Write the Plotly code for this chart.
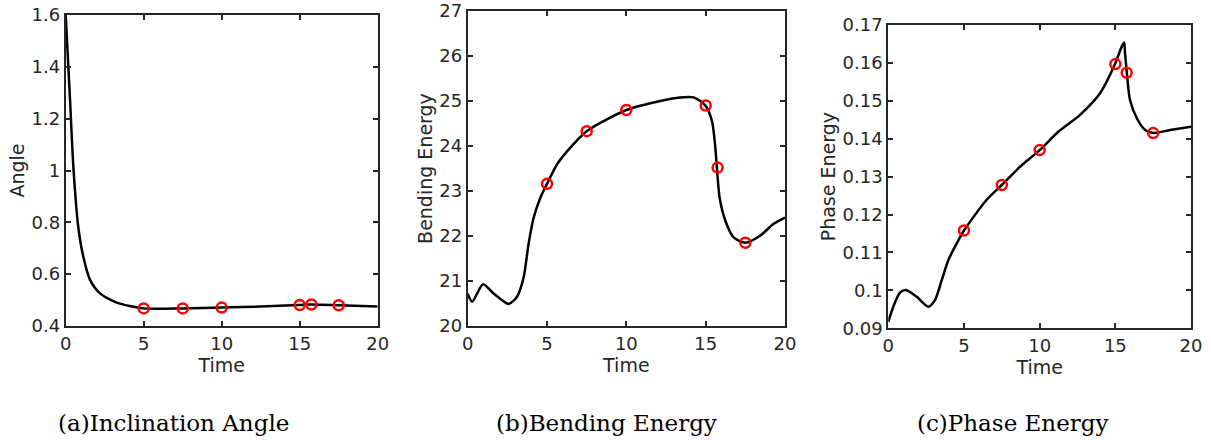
import plotly.graph_objects as go

# ---- Data ----
# (a) Inclination angle curve
t_angle = [0, 0.28, 0.49, 0.81, 1.13, 1.56, 2.2, 3.27, 5, 7.5, 10, 12.5, 15, 15.75, 17.5, 20]
angle = [1.6, 1.27, 1.015, 0.78, 0.667, 0.578, 0.526, 0.49, 0.468, 0.468, 0.471, 0.475, 0.481, 0.483, 0.480, 0.475]
# (b) Bending energy curve
t_bend = [0, 0.28, 0.97, 1.64, 2.58, 3.11, 3.53, 3.84, 4.16, 4.58, 5.0, 5.63, 6.26, 7.5, 10, 12, 13.4, 14.24,
          14.98, 15.4, 15.61, 15.71, 15.88, 16.24, 16.76, 17.5, 18.45, 19.28, 20]
bend = [20.72, 20.54, 20.93, 20.72, 20.49, 20.65, 21.09, 21.83, 22.41, 22.85, 23.16, 23.59, 23.88, 24.33, 24.80,
        24.99, 25.08, 25.08, 24.90, 24.55, 23.96, 23.50, 22.85, 22.34, 21.97, 21.85, 22.01, 22.27, 22.41]
# (c) Phase energy curve
t_phase = [0, 0.33, 0.77, 1.17, 1.88, 2.64, 3.09, 3.53, 3.97, 4.52, 5.0, 6.5, 7.5, 8.7, 10, 11.25, 12.67, 13.99,
           14.98, 15.42, 15.58, 15.64, 15.76, 15.97, 16.42, 16.97, 17.52, 18.62, 20]
phase = [0.0917, 0.0957, 0.0994, 0.1001, 0.0983, 0.0957, 0.0975, 0.1027, 0.1080, 0.1124, 0.1158, 0.1239, 0.1278,
         0.1326, 0.1370, 0.1419, 0.1463, 0.1520, 0.1597, 0.1643, 0.1654, 0.1626, 0.1574, 0.1502, 0.1454, 0.1423,
         0.1415, 0.1423, 0.1432]

# Marker samples
t_marks = [5, 7.5, 10, 15, 15.75, 17.5]
angle_marks = [0.468, 0.468, 0.471, 0.481, 0.483, 0.480]
bend_marks = [23.16, 24.33, 24.80, 24.90, 23.52, 21.85]
phase_marks = [0.1158, 0.1278, 0.1370, 0.1597, 0.1574, 0.1415]

# Axis settings
x_ticks = [0, 5, 10, 15, 20]
angle_ticks = [0.4, 0.6, 0.8, 1.0, 1.2, 1.4, 1.6]
angle_ticktext = ["0.4", "0.6", "0.8", "1", "1.2", "1.4", "1.6"]
bend_ticks = [20, 21, 22, 23, 24, 25, 26, 27]
phase_ticks = [0.09, 0.10, 0.11, 0.12, 0.13, 0.14, 0.15, 0.16, 0.17]
phase_ticktext = ["0.09", "0.1", "0.11", "0.12", "0.13", "0.14", "0.15", "0.16", "0.17"]
y_titles = ["Angle", "Bending Energy", "Phase Energy"]
captions = ["(a)Inclination Angle", "(b)Bending Energy", "(c)Phase Energy"]

W, H = 1211, 440
AX = "#262626"
FONT = "DejaVu Sans"

fig = go.Figure()
series = [(t_angle, angle, angle_marks), (t_bend, bend, bend_marks), (t_phase, phase, phase_marks)]
for i, (tx, ty, my) in enumerate(series):
    xa = "x" if i == 0 else f"x{i+1}"
    ya = "y" if i == 0 else f"y{i+1}"
    fig.add_trace(go.Scatter(x=tx, y=ty, mode="lines",
                             line=dict(color="black", width=2.5, shape="spline", smoothing=0.7),
                             xaxis=xa, yaxis=ya, showlegend=False, hoverinfo="skip"))
    fig.add_trace(go.Scatter(x=t_marks, y=my, mode="markers",
                             marker=dict(symbol="circle-open", size=10, color="red", line=dict(width=2.5, color="red")),
                             xaxis=xa, yaxis=ya, showlegend=False))

px = lambda v: v / W
py = lambda v: 1 - v / H
xdoms = [[px(65.7), px(377.7)], [px(467.7), px(785)], [px(888.3), px(1191)]]
ydoms = [[py(326), py(15)], [py(326), py(11)], [py(328.3), py(25)]]
yranges = [[0.4, 1.6], [20, 27], [0.09, 0.17]]
yticks = [(angle_ticks, angle_ticktext), (bend_ticks, [str(v) for v in bend_ticks]), (phase_ticks, phase_ticktext)]

common = dict(showline=True, linecolor=AX, linewidth=2, mirror="ticks", ticks="inside", ticklen=5,
              tickwidth=2, tickcolor=AX, showgrid=False, zeroline=False, automargin=False,
              ticklabeloverflow="allow", tickfont=dict(family=FONT, size=18, color=AX))
layout = {}
for i in range(3):
    sx = "xaxis" if i == 0 else f"xaxis{i+1}"
    sy = "yaxis" if i == 0 else f"yaxis{i+1}"
    anchor_y = "y" if i == 0 else f"y{i+1}"
    anchor_x = "x" if i == 0 else f"x{i+1}"
    layout[sx] = dict(domain=xdoms[i], anchor=anchor_y, range=[0, 20], tickvals=x_ticks,
                      title=dict(text="Time", font=dict(family=FONT, size=19, color=AX), standoff=0), **common)
    layout[sy] = dict(domain=ydoms[i], anchor=anchor_x, range=yranges[i], tickvals=yticks[i][0],
                      ticktext=yticks[i][1],
                      title=dict(text=y_titles[i], font=dict(family=FONT, size=19, color=AX), standoff=2), **common)

fig.update_layout(width=W, height=H, margin=dict(l=0, r=0, t=0, b=0),
                  paper_bgcolor="white", plot_bgcolor="white", **layout)

cap_x = [173, 606, 1012]
for cx, txt in zip(cap_x, captions):
    fig.add_annotation(x=px(cx), y=py(423), xref="paper", yref="paper", text=txt, showarrow=False,
                       font=dict(family="DejaVu Serif", size=23, color="black"), xanchor="center", yanchor="middle")

fig.write_html("out.html", config={"displayModeBar": False},
               post_script="document.body.style.margin='0px';document.body.style.overflow='hidden';")
